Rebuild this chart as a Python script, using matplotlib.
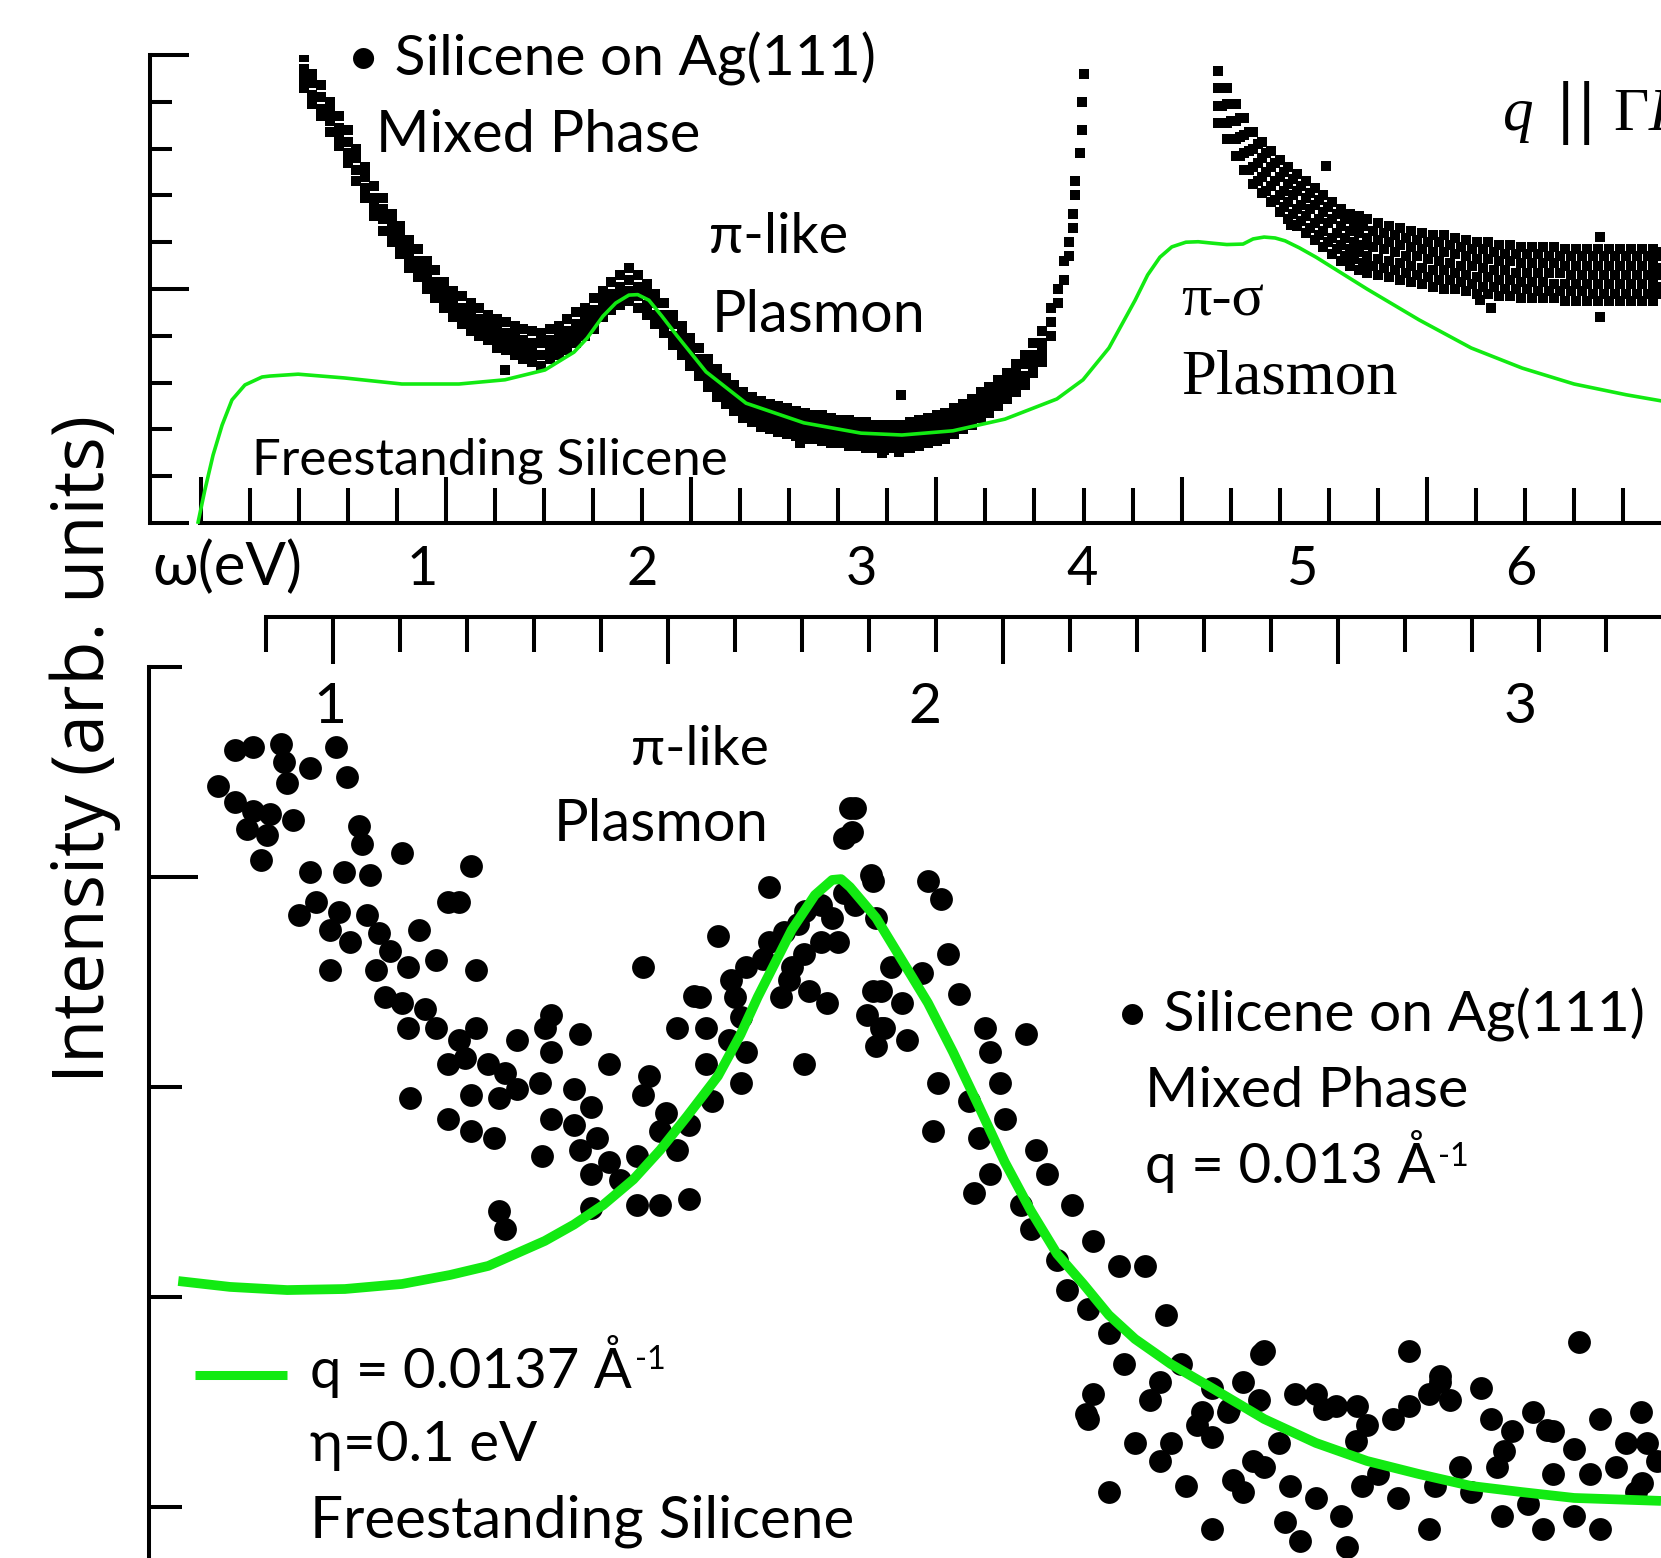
import matplotlib
matplotlib.use("Agg")
import matplotlib.pyplot as plt
import matplotlib.transforms as mtransforms
from matplotlib.lines import Line2D
from matplotlib.ticker import FixedLocator

# ---------------- data ----------------
# Top panel (omega in eV, intensity in arb. units 0..10)
TOP_BAND_X = [0.46, 0.50, 0.54, 0.58, 0.62, 0.66, 0.70, 0.74, 0.78, 0.82,
              0.86, 0.90, 0.94, 0.98, 1.02, 1.06, 1.10, 1.14, 1.18, 1.22,
              1.26, 1.30, 1.34, 1.38, 1.42, 1.46, 1.50, 1.54, 1.58, 1.62,
              1.66, 1.70, 1.74, 1.78, 1.82, 1.86, 1.90, 1.94, 1.98, 2.02,
              2.06, 2.10, 2.14, 2.18, 2.22, 2.26, 2.30, 2.34, 2.38, 2.42,
              2.46, 2.50, 2.54, 2.58, 2.62, 2.66, 2.70, 2.74, 2.78, 2.82,
              2.86, 2.90, 2.94, 2.98, 3.02, 3.06, 3.10, 3.14, 3.18, 3.22,
              3.26, 3.30, 3.34, 3.38, 3.42, 3.46, 3.50, 3.54, 3.58, 3.62,
              3.66, 3.70, 3.74, 3.78, 3.82, 3.86, 3.89, 3.92, 3.94, 3.96,
              3.97, 3.99, 4.00, 4.01,
              4.62, 4.66, 4.70, 4.74, 4.78, 4.82, 4.86, 4.90, 4.94, 4.98,
              5.02, 5.06, 5.10, 5.14, 5.18, 5.22, 5.26, 5.30, 5.35, 5.40,
              5.45, 5.50, 5.55, 5.60, 5.65, 5.70, 5.75, 5.80, 5.85, 5.90,
              5.95, 6.00, 6.05, 6.10, 6.15, 6.20, 6.25, 6.30, 6.35, 6.40,
              6.45, 6.50, 6.55, 6.60, 6.64]
TOP_BAND_Y = [
    [9.95, 9.7, 9.5, 9.3], [9.6, 9.4, 9.15, 8.95], [9.35, 9.1, 8.85, 8.7],
    [9.0, 8.8, 8.6, 8.35], [8.7, 8.45, 8.25, 8.05], [8.4, 8.15, 7.9, 7.7],
    [8.0, 7.8, 7.55, 7.3], [7.6, 7.4, 7.15, 6.95], [7.2, 6.95, 6.75, 6.55],
    [6.95, 6.7, 6.5, 6.25], [6.6, 6.4, 6.2, 6.0], [6.35, 6.15, 5.95, 5.75],
    [6.05, 5.85, 5.65, 5.45], [5.85, 5.6, 5.4, 5.25], [5.6, 5.4, 5.2, 5.0],
    [5.4, 5.15, 4.95, 4.8], [5.15, 4.95, 4.75, 4.6], [4.95, 4.75, 4.55, 4.4],
    [4.85, 4.6, 4.4, 4.25], [4.7, 4.5, 4.3, 4.1], [4.6, 4.35, 4.2, 4.0],
    [4.45, 4.25, 4.05, 3.9], [4.35, 4.15, 3.95, 3.75], [4.3, 4.05, 3.85, 3.7],
    [4.2, 4.0, 3.8, 3.6], [4.15, 3.9, 3.7, 3.5], [4.1, 3.85, 3.65, 3.45],
    [4.05, 3.85, 3.6, 3.35], [4.15, 3.9, 3.7, 3.5], [4.2, 4.0, 3.8, 3.6],
    [4.35, 4.1, 3.9, 3.7], [4.5, 4.25, 4.05, 3.85], [4.6, 4.4, 4.2, 4.0],
    [4.8, 4.55, 4.35, 4.15], [4.95, 4.75, 4.55, 4.4], [5.15, 4.9, 4.7, 4.55],
    [5.3, 5.05, 4.85, 4.65], [5.45, 5.2, 4.95, 4.75], [5.3, 5.05, 4.85, 4.6],
    [5.1, 4.9, 4.65, 4.45], [4.9, 4.7, 4.45, 4.25], [4.7, 4.45, 4.25, 4.05],
    [4.45, 4.25, 4.0, 3.8], [4.2, 4.0, 3.8, 3.6], [3.95, 3.75, 3.55, 3.35],
    [3.75, 3.5, 3.3, 3.15], [3.5, 3.3, 3.1, 2.9], [3.3, 3.1, 2.9, 2.7],
    [3.1, 2.9, 2.7, 2.55], [2.95, 2.75, 2.55, 2.4], [2.8, 2.6, 2.45, 2.25],
    [2.7, 2.5, 2.35, 2.15], [2.6, 2.4, 2.25, 2.05], [2.55, 2.35, 2.2, 2.0],
    [2.5, 2.3, 2.15, 1.95], [2.45, 2.25, 2.1, 1.9], [2.4, 2.2, 2.05, 1.85],
    [2.35, 2.2, 2.0, 1.8], [2.3, 2.15, 1.95, 1.8], [2.3, 2.1, 1.95, 1.75],
    [2.25, 2.1, 1.9, 1.7], [2.2, 2.05, 1.85, 1.7], [2.2, 2.0, 1.85, 1.65],
    [2.15, 2.0, 1.8, 1.65], [2.15, 1.95, 1.8, 1.6], [2.1, 1.95, 1.75, 1.6],
    [2.1, 1.9, 1.75, 1.55], [2.1, 1.9, 1.75, 1.6], [2.1, 1.95, 1.75, 1.6],
    [2.15, 1.95, 1.8, 1.6], [2.2, 2.0, 1.85, 1.65], [2.25, 2.05, 1.9, 1.7],
    [2.3, 2.1, 1.95, 1.75], [2.35, 2.2, 2.0, 1.8], [2.45, 2.25, 2.1, 1.9],
    [2.55, 2.35, 2.2, 2.0], [2.65, 2.45, 2.3, 2.1], [2.8, 2.6, 2.4, 2.25],
    [2.9, 2.7, 2.55, 2.35], [3.05, 2.85, 2.65, 2.5], [3.2, 3.0, 2.8, 2.65],
    [3.4, 3.2, 3.0, 2.8], [3.6, 3.4, 3.15, 2.95], [3.85, 3.6, 3.4, 3.2],
    [4.1, 3.85, 3.65, 3.45], [4.6, 4.3, 4.0], [5.0, 4.7], [5.6, 5.2],
    [6.0, 5.7], [6.6, 6.3], [7.3, 7.0], [7.9], [8.4, 9.0], [9.6],
    [9.65, 9.3, 8.9, 8.55], [9.3, 8.95, 8.55, 8.2], [8.95, 8.6, 8.2, 7.85],
    [8.65, 8.3, 7.9, 7.55], [8.35, 8.0, 7.6, 7.25], [8.15, 7.8, 7.4, 7.05],
    [7.95, 7.6, 7.2, 6.85], [7.75, 7.4, 7.0, 6.65], [7.6, 7.25, 6.85, 6.5],
    [7.45, 7.1, 6.7, 6.35], [7.3, 6.95, 6.55, 6.2], [7.15, 6.8, 6.4, 6.05],
    [7.0, 6.65, 6.25, 5.9], [6.85, 6.5, 6.1, 5.75], [6.7, 6.35, 5.95, 5.6],
    [6.6, 6.25, 5.85, 5.5], [6.55, 6.2, 5.8, 5.4], [6.5, 6.1, 5.7, 5.35],
    [6.4, 6.05, 5.65, 5.3], [6.35, 6.0, 5.6, 5.25], [6.3, 5.95, 5.55, 5.2],
    [6.25, 5.9, 5.5, 5.15], [6.2, 5.85, 5.45, 5.1], [6.15, 5.8, 5.4, 5.05],
    [6.15, 5.8, 5.4, 5.0], [6.1, 5.75, 5.35, 5.0], [6.05, 5.7, 5.3, 4.95],
    [6.0, 5.65, 5.25, 4.9], [6.0, 5.65, 5.25, 4.9], [5.95, 5.6, 5.2, 4.85],
    [5.95, 5.6, 5.2, 4.85], [5.9, 5.55, 5.15, 4.8], [5.9, 5.55, 5.15, 4.8],
    [5.9, 5.55, 5.15, 4.8], [5.9, 5.55, 5.1, 4.8], [5.85, 5.5, 5.1, 4.75],
    [5.85, 5.5, 5.1, 4.75], [5.85, 5.5, 5.1, 4.75], [5.85, 5.5, 5.1, 4.75],
    [5.85, 5.5, 5.1, 4.75], [5.85, 5.5, 5.1, 4.75], [5.85, 5.5, 5.1, 4.75],
    [5.85, 5.5, 5.1, 4.75], [5.85, 5.5, 5.1, 4.75], [5.8, 5.45, 5.05]]
# in-between columns of the right (pi-sigma side) band
TOP_BAND2_X = [4.64, 4.68, 4.72, 4.76, 4.80, 4.84, 4.88, 4.92, 4.96, 5.00,
               5.04, 5.08, 5.12, 5.16, 5.20, 5.24, 5.28, 5.325, 5.375, 5.425,
               5.475, 5.525, 5.575, 5.625, 5.675, 5.725, 5.775, 5.825, 5.875, 5.925,
               5.975, 6.025, 6.075, 6.125, 6.175, 6.225, 6.275, 6.325, 6.375, 6.425,
               6.475, 6.525, 6.575, 6.62]
TOP_BAND2_Y = [
    [9.3, 8.9, 8.55], [8.95, 8.6, 8.2], [8.65, 8.25, 7.85], [8.35, 7.95, 7.55],
    [8.1, 7.7, 7.3], [7.9, 7.5, 7.1], [7.7, 7.3, 6.9], [7.5, 7.1, 6.75],
    [7.35, 7.0, 6.6], [7.2, 6.8, 6.45], [7.05, 6.7, 6.3], [6.9, 6.5, 6.15],
    [6.75, 6.4, 6.0], [6.6, 6.2, 5.85], [6.5, 6.1, 5.7], [6.4, 6.0, 5.65],
    [6.35, 5.95, 5.55], [6.25, 5.9, 5.5], [6.2, 5.85, 5.45], [6.15, 5.8, 5.4],
    [6.1, 5.7, 5.35], [6.05, 5.7, 5.3], [6.0, 5.65, 5.25], [6.0, 5.6, 5.2],
    [5.95, 5.55, 5.2], [5.9, 5.5, 5.15], [5.85, 5.5, 5.1], [5.85, 5.45, 5.05],
    [5.8, 5.4, 5.05], [5.75, 5.4, 5.0], [5.75, 5.35, 5.0], [5.75, 5.35, 5.0],
    [5.75, 5.35, 4.95], [5.7, 5.35, 4.95], [5.7, 5.35, 4.95], [5.7, 5.3, 4.95],
    [5.7, 5.3, 4.95], [5.7, 5.3, 4.9], [5.7, 5.3, 4.9], [5.7, 5.3, 4.9],
    [5.7, 5.3, 4.9], [5.7, 5.3, 4.9], [5.7, 5.3, 4.9], [5.7, 5.3, 4.9]]
TOP_STRAY_X = [1.376, 3.09, 3.17, 2.72, 3.18, 5.11, 4.95, 5.86, 6.36, 6.36, 5.81]
TOP_STRAY_Y = [3.27, 1.50, 1.52, 1.72, 2.74, 7.63, 6.37, 4.59, 6.11, 4.40, 4.76]

TOP_FIT_X = [-0.020, 0.011, 0.048, 0.089, 0.134, 0.193, 0.271, 0.307, 0.435, 0.644,
             0.907, 1.167, 1.376, 1.558, 1.690, 1.75, 1.822, 1.88, 1.940, 1.98,
             2.031, 2.09, 2.159, 2.291, 2.473, 2.736, 2.996, 3.182, 3.414, 3.651,
             3.887, 4.006, 4.124, 4.243, 4.30, 4.356, 4.41, 4.474, 4.53, 4.593,
             4.66, 4.734, 4.78, 4.830, 4.88, 4.925, 4.99, 5.066, 5.298, 5.535,
             5.772, 6.004, 6.240, 6.477, 6.636]
TOP_FIT_Y = [0.02, 0.71, 1.45, 2.09, 2.63, 2.95, 3.12, 3.14, 3.18, 3.10,
             2.97, 2.97, 3.06, 3.27, 3.65, 3.95, 4.42, 4.70, 4.87, 4.88,
             4.76, 4.42, 4.00, 3.23, 2.56, 2.14, 1.92, 1.88, 1.97, 2.22,
             2.65, 3.06, 3.74, 4.76, 5.30, 5.68, 5.90, 6.00, 6.01, 5.98,
             5.95, 5.96, 6.07, 6.11, 6.09, 6.03, 5.88, 5.68, 5.00, 4.34,
             3.74, 3.31, 2.97, 2.74, 2.61]
TOP_TICK_VALUES = [1, 2, 3, 4, 5, 6]
TOP_TICK_LABELS = ["1", "2", "3", "4", "5", "6"]

# Bottom panel (omega in eV, intensity in arb. units)
BOT_DOTS_X = [
    0.840, 0.871, 0.918, 0.923, 1.010, 0.966, 1.029, 0.812, 0.840, 0.871,
    0.899, 0.938, 0.928, 0.861, 0.894, 0.884, 1.049, 1.054, 1.121, 1.237,
    0.966, 1.024, 1.067, 0.948, 0.976, 1.015, 1.062, 1.000, 1.034, 1.082,
    1.101, 1.150, 1.178, 1.198, 1.217, 1.000, 1.077, 1.131, 1.245, 1.092,
    1.121, 1.160, 1.131, 1.178, 1.217, 1.245, 1.314, 1.361, 1.371, 1.420,
    1.198, 1.227, 1.266, 1.294, 1.237, 1.284, 1.314, 1.353, 1.371, 1.410,
    1.439, 1.469, 1.536, 1.526, 1.134, 1.198, 1.237, 1.276, 1.371, 1.410,
    1.449, 1.420, 1.469, 1.356, 1.516, 1.565, 1.583, 1.439, 1.487, 1.516,
    1.555, 1.603, 1.439, 1.284, 1.294, 1.526, 1.652, 1.699, 1.738, 1.738,
    1.622, 1.681, 1.632, 1.671, 1.632, 1.699, 1.691, 1.583, 1.642, 1.603,
    1.555, 1.797, 1.776, 1.797, 1.825, 1.844, 1.758, 1.805, 1.835, 1.854,
    1.825, 1.864, 1.913, 1.874, 1.877, 1.864, 1.913, 1.931, 1.903, 1.787,
    1.882, 1.909, 2.005, 2.027, 1.882, 1.918, 2.039, 1.995, 1.943, 1.926,
    2.057, 1.961, 1.926, 1.970, 1.918, 2.022, 2.101, 2.170, 2.109, 2.126,
    2.074, 2.013, 2.134, 2.091, 2.109, 2.082, 2.187, 2.205, 2.161, 2.247,
    2.282, 2.178, 2.222, 2.239, 2.274, 2.326, 2.370, 2.309, 2.334, 2.282,
    2.405, 2.395, 2.430, 2.482, 2.534, 2.570, 2.561, 2.509, 2.466, 2.378,
    2.353, 2.395, 2.413, 2.274, 2.309, 2.482, 2.518, 2.551, 2.595, 2.622,
    2.657, 2.691, 2.726, 2.743, 2.787, 2.813, 2.847, 2.866, 2.882, 2.934,
    2.951, 2.987, 3.022, 3.055, 3.091, 2.813, 2.866, 3.099, 3.203, 3.134,
    3.178, 3.213, 3.161, 3.118, 3.055, 3.013, 2.970, 2.918, 2.857, 2.847,
    2.795, 2.734, 2.699, 2.657, 2.613, 2.605, 2.630, 2.709, 2.570, 2.534,
    2.439, 2.482, 2.761, 3.091, 3.039, 3.134, 3.195, 3.230, 2.899, 2.961,
    2.271, 2.565, 1.612, 1.674, 1.691, 1.728, 1.771, 1.763, 1.798, 2.457,
    2.511, 2.670, 2.724, 2.973, 3.045, 3.205]
BOT_DOTS_Y = [
    3.605, 3.619, 3.633, 3.548, 3.619, 3.519, 3.476, 3.433, 3.357, 3.314,
    3.300, 3.271, 3.448, 3.229, 3.200, 3.081, 3.243, 3.157, 3.114, 3.052,
    3.024, 3.024, 3.010, 2.819, 2.881, 2.833, 2.819, 2.748, 2.690, 2.733,
    2.648, 2.748, 2.605, 2.881, 2.881, 2.557, 2.557, 2.571, 2.557, 2.429,
    2.400, 2.371, 2.281, 2.281, 2.224, 2.281, 2.224, 2.281, 2.343, 2.252,
    2.110, 2.138, 2.110, 2.067, 1.962, 1.948, 1.990, 2.019, 2.167, 1.990,
    1.905, 2.110, 2.052, 1.962, 1.948, 1.848, 1.790, 1.757, 1.848, 1.819,
    1.757, 1.700, 1.643, 1.671, 1.671, 1.876, 1.700, 1.586, 1.557, 1.438,
    1.438, 1.467, 1.424, 1.410, 1.324, 2.571, 2.719, 2.571, 2.690, 2.952,
    2.429, 2.429, 2.281, 2.224, 2.110, 2.167, 2.019, 2.281, 1.933, 1.819,
    1.790, 2.110, 2.571, 2.633, 2.690, 2.805, 2.429, 2.457, 2.400, 2.690,
    2.867, 2.924, 2.981, 3.329, 3.214, 3.186, 2.457, 2.281, 2.343, 2.776,
    3.329, 3.010, 2.981, 2.895, 2.867, 2.805, 2.633, 2.543, 2.571, 2.457,
    2.443, 2.400, 2.281, 2.224, 2.195, 2.019, 2.281, 2.252, 2.167, 2.019,
    1.933, 1.790, 1.848, 1.757, 1.586, 1.495, 1.700, 1.586, 1.438, 1.438,
    1.267, 1.324, 1.176, 1.033, 0.943, 1.148, 1.148, 0.829, 0.681, 0.538,
    0.914, 0.595, 0.681, 0.567, 0.595, 0.743, 0.510, 0.452, 0.452, 0.510,
    0.305, 0.219, 0.305, 0.419, 0.071, 0.333, 0.129, 0.219, 0.305, 0.538,
    0.538, 0.481, 0.481, 0.390, 0.419, 0.481, 0.538, 0.595, 0.510, 0.567,
    0.419, 0.362, 0.452, 0.362, 0.276, 0.743, 0.624, 0.786, 0.452, 0.419,
    0.305, 0.305, 0.190, 0.157, 0.157, 0.014, -0.043, 0.071, 0.100, -0.105,
    0.043, 0.100, -0.043, 0.043, 0.100, -0.071, -0.162, -0.190, 0.190, 0.071,
    0.100, -0.105, 0.157, -0.043, -0.105, -0.105, 0.071, 0.219, 0.190, 0.190,
    0.443, 0.729, 2.433, 2.510, 2.333, 2.610, 2.510, 2.738, 2.838, 0.390,
    0.467, 0.467, 0.314, 0.267, 0.367, 0.114]
BOT_FIT_X = [0.745, 0.832, 0.928, 1.025, 1.121, 1.202, 1.266, 1.361, 1.41, 1.459,
             1.51, 1.555, 1.60, 1.652, 1.69, 1.719, 1.776, 1.815, 1.844, 1.859,
             1.874, 1.918, 1.961, 2.005, 2.047, 2.091, 2.134, 2.178, 2.222, 2.266,
             2.309, 2.353, 2.413, 2.482, 2.570, 2.657, 2.743, 2.830, 2.918, 3.003,
             3.091, 3.237]
BOT_FIT_Y = [1.076, 1.048, 1.033, 1.038, 1.062, 1.105, 1.148, 1.267, 1.345, 1.438,
             1.56, 1.700, 1.86, 2.052, 2.25, 2.429, 2.748, 2.914, 2.986, 2.990,
             2.952, 2.805, 2.605, 2.400, 2.167, 1.905, 1.643, 1.410, 1.205, 1.062,
             0.914, 0.800, 0.681, 0.567, 0.419, 0.305, 0.219, 0.157, 0.100, 0.071,
             0.043, 0.029]
BOT_TICK_VALUES = [1, 2, 3]
BOT_TICK_LABELS = ["1", "2", "3"]

# ---------------- figure ----------------
W, H = 1661, 1558
fig = plt.figure(figsize=(W / 100, H / 100), dpi=100)
fig.patch.set_facecolor("white")
renderer = fig.canvas.get_renderer()


def fx(px):
    return px / W


def fy(py):
    return 1 - py / H


GREEN = "#12ea12"
SANS = ["Lato", "DejaVu Sans"]
SERIF = ["Liberation Serif", "DejaVu Serif"]
LW = 2.9


def put(s, left_px, base_px, width_px, family=SANS, size0=30, **kw):
    t = fig.text(fx(left_px), fy(base_px), s, ha="left", va="baseline",
                 fontsize=size0, family=family, **kw)
    w = t.get_window_extent(renderer).width
    t.set_fontsize(size0 * width_px / w)
    return t


# ---- top panel ----
ax1 = fig.add_axes([fx(150), fy(523), 1 - fx(150), fy(55) - fy(523)])
ax1.set_xlim(-0.2389, 6.6356)
ax1.set_ylim(0, 10)
ax1.patch.set_alpha(0)
for s in ("top", "right"):
    ax1.spines[s].set_visible(False)
for s in ("left", "bottom"):
    ax1.spines[s].set_linewidth(LW)
ax1.spines["bottom"].set_bounds(-0.011, 6.6356)

T0, TS = -0.007, 0.22307
ax1.xaxis.set_major_locator(FixedLocator([T0 + TS * 5 * m for m in range(6)]))
ax1.xaxis.set_minor_locator(FixedLocator([T0 + TS * k for k in range(30) if k % 5]))
ax1.yaxis.set_major_locator(FixedLocator([0, 5, 10]))
ax1.yaxis.set_minor_locator(FixedLocator([1, 2, 3, 4, 6, 7, 8, 9]))
ax1.tick_params(axis="x", which="major", direction="in", length=33, width=LW)
ax1.tick_params(axis="x", which="minor", direction="in", length=25, width=LW)
ax1.tick_params(axis="y", which="major", direction="in", length=28, width=LW)
ax1.tick_params(axis="y", which="minor", direction="in", length=16, width=LW)
ax1.tick_params(labelbottom=False, labelleft=False)

tx, ty = [], []
for cols_x, cols_y in ((TOP_BAND_X, TOP_BAND_Y), (TOP_BAND2_X, TOP_BAND2_Y)):
    for x, ys in zip(cols_x, cols_y):
        for y in ys:
            tx.append(x)
            ty.append(y)
ax1.scatter(tx + TOP_STRAY_X, ty + TOP_STRAY_Y, s=46, marker="s", c="black",
            linewidths=0, zorder=2)
ax1.plot(TOP_FIT_X, TOP_FIT_Y, color=GREEN, lw=2.6, zorder=3, clip_on=False)

tr1 = mtransforms.blended_transform_factory(ax1.transData, fig.transFigure)
for v, lab in zip(TOP_TICK_VALUES, TOP_TICK_LABELS):
    ax1.text(v, fy(585), lab, transform=tr1, ha="center", va="baseline",
             fontsize=39, family=SANS)
put("ω(eV)", 152, 585, 150)

put("• Silicene on Ag(111)", 347, 75, 529)
put("Mixed Phase", 376, 152, 324)
put("π-like", 709, 253, 139)
put("Plasmon", 712, 332, 214)
put("Freestanding Silicene", 252, 475, 475)
put("π-σ", 1181, 316, 83, family=SERIF)
put("Plasmon", 1181, 393, 217, family=SERIF)

# q || Gamma K annotation (cut at the right border, as in the source)
fig.text(fx(1503), fy(130), "q", ha="left", va="baseline", fontsize=44,
         family=SERIF, style="italic")
fig.text(fx(1558), fy(130), "|", ha="left", va="baseline", fontsize=50,
         family=SERIF, weight="bold")
fig.text(fx(1579), fy(130), "|", ha="left", va="baseline", fontsize=50,
         family=SERIF, weight="bold")
fig.text(fx(1613), fy(130), "Γ", ha="left", va="baseline", fontsize=44,
         family=SERIF)
fig.text(fx(1649), fy(130), "K", ha="left", va="baseline", fontsize=44,
         family=SERIF, style="italic")

# ---- bottom panel ----
ax2 = fig.add_axes([fx(149), 0, 1 - fx(149), fy(617)])
ax2.set_xlim(0.6958, 3.2370)
ax2.set_ylim(-0.2429, 4.2381)
ax2.patch.set_alpha(0)
for s in ("bottom", "right"):
    ax2.spines[s].set_visible(False)
for s in ("left", "top"):
    ax2.spines[s].set_linewidth(LW)
ax2.spines["top"].set_bounds(0.8924, 3.237)
ax2.spines["left"].set_bounds(-0.2429, 4.0)
ax2.xaxis.set_ticks_position("top")
B0, BS = 0.8924, 0.1126
ax2.xaxis.set_major_locator(FixedLocator([B0 + BS * (1 + 5 * m) for m in range(4)]))
ax2.xaxis.set_minor_locator(FixedLocator([B0 + BS * k for k in range(21) if k % 5 != 1]))
ax2.yaxis.set_major_locator(FixedLocator([3]))
ax2.yaxis.set_minor_locator(FixedLocator([0, 1, 2, 4]))
ax2.tick_params(axis="x", which="major", direction="in", length=34, width=LW)
ax2.tick_params(axis="x", which="minor", direction="in", length=25, width=LW)
ax2.tick_params(axis="y", which="major", direction="in", length=35, width=LW)
ax2.tick_params(axis="y", which="minor", direction="in", length=24, width=LW)
ax2.tick_params(labeltop=False, labelbottom=False, labelleft=False)

ax2.scatter(BOT_DOTS_X, BOT_DOTS_Y, s=270, marker="o", c="black",
            linewidths=0, zorder=2)
ax2.plot(BOT_FIT_X, BOT_FIT_Y, color=GREEN, lw=7, zorder=3,
         solid_capstyle="butt", solid_joinstyle="round")

tr2 = mtransforms.blended_transform_factory(ax2.transData, fig.transFigure)
for v, lab in zip(BOT_TICK_VALUES, BOT_TICK_LABELS):
    ax2.text(v, fy(723), lab, transform=tr2, ha="center", va="baseline",
             fontsize=41, family=SANS)

put("π-like", 631, 765, 138)
put("Plasmon", 554, 841, 215)
put("• Silicene on Ag(111)", 1116, 1031, 528)
put("Mixed Phase", 1145, 1107, 323)
put("q = 0.013 Å", 1145, 1183, 290)
put("-1", 1438, 1166, 31)

fig.add_artist(Line2D([fx(195), fx(287)], [fy(1375), fy(1375)],
                      transform=fig.transFigure, color=GREEN, lw=6.5,
                      solid_capstyle="butt"))
put("q = 0.0137 Å", 310, 1388, 321)
put("-1", 635, 1369, 31)
put("η=0.1 eV", 310, 1461, 227)
put("Freestanding Silicene", 310, 1538, 545)

# shared y label
yl = fig.text(fx(104), fy(749), "Intensity (arb. units)", rotation=90,
              rotation_mode="anchor", ha="center", va="baseline",
              fontsize=40, family=["Open Sans", "DejaVu Sans"])
hh = yl.get_window_extent(renderer).height
yl.set_fontsize(40 * 668 / hh)

fig.savefig("out.png", dpi=100)
